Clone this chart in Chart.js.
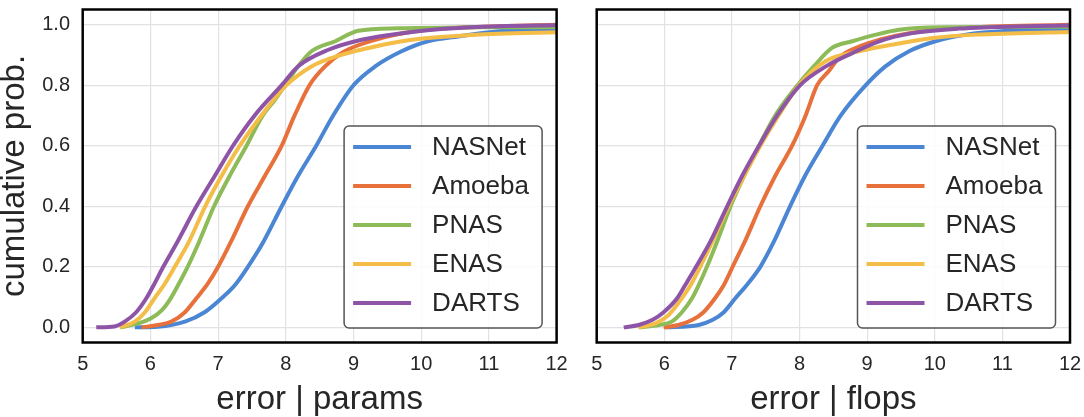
<!DOCTYPE html>
<html>
<head>
<meta charset="utf-8">
<script src="https://cdn.jsdelivr.net/npm/chart.js@4.4.1/dist/chart.umd.min.js"></script>
<style>
  html, body { margin: 0; padding: 0; background: #fff; }
  #wrap { position: relative; width: 1084px; height: 417px; overflow: hidden; }
  canvas { position: absolute; top: 0; }
</style>
</head>
<body>
<div id="wrap">
  <canvas id="chart-params" width="580" height="417" style="left:0px"></canvas>
  <canvas id="chart-flops" width="509" height="417" style="left:575px"></canvas>
</div>
<script>
// series names + colours (legend order)
const seriesNames = ['NASNet', 'Amoeba', 'PNAS', 'ENAS', 'DARTS'];
const seriesColors = ['#4a86d3', '#e8703a', '#8cbb57', '#f3bd47', '#8e55a6'];

// tick labels
const xTicks = [5, 6, 7, 8, 9, 10, 11, 12];
const yTicks = [0.0, 0.2, 0.4, 0.6, 0.8, 1.0];

// ---- error | params ----
const paramsNASNetX = [5.77, 6.11, 6.51, 6.80, 7.05, 7.25, 7.44, 7.67, 7.94, 8.18, 8.45, 8.70, 9.00, 9.32, 9.71, 10.10, 10.55, 11.14, 12.0];
const paramsNASNetP = [0, 0.002, 0.019, 0.05, 0.096, 0.14, 0.2, 0.283, 0.4, 0.5, 0.6, 0.7, 0.8, 0.862, 0.912, 0.945, 0.961, 0.978, 0.986];

const paramsAmoebaX = [5.87, 6.11, 6.31, 6.51, 6.68, 6.85, 7.00, 7.19, 7.44, 7.69, 7.94, 8.13, 8.35, 8.58, 8.87, 9.32, 9.91, 10.65, 12.0];
const paramsAmoebaP = [0, 0.008, 0.019, 0.05, 0.096, 0.145, 0.2, 0.283, 0.4, 0.5, 0.6, 0.7, 0.8, 0.862, 0.912, 0.95, 0.978, 0.991, 1.0];

const paramsPNASX = [5.55, 5.82, 6.01, 6.17, 6.30, 6.41, 6.55, 6.72, 6.94, 7.17, 7.42, 7.66, 7.84, 7.99, 8.18, 8.38, 8.73, 9.07, 9.66, 10.89, 12.0];
const paramsPNASP = [0, 0.013, 0.03, 0.057, 0.096, 0.14, 0.2, 0.283, 0.4, 0.5, 0.6, 0.7, 0.752, 0.8, 0.862, 0.912, 0.945, 0.98, 0.988, 0.991, 0.992];

const paramsENASX = [5.55, 5.77, 5.92, 6.06, 6.20, 6.36, 6.57, 6.81, 7.05, 7.32, 7.64, 8.01, 8.38, 8.82, 9.32, 9.86, 10.40, 11.14, 12.0];
const paramsENASP = [0, 0.019, 0.05, 0.096, 0.14, 0.2, 0.283, 0.4, 0.5, 0.6, 0.7, 0.8, 0.862, 0.9, 0.928, 0.95, 0.961, 0.97, 0.975];

const paramsDARTSX = [5.2, 5.47, 5.62, 5.79, 5.94, 6.05, 6.19, 6.40, 6.68, 6.95, 7.22, 7.54, 7.94, 8.18, 8.63, 9.12, 9.66, 10.40, 11.14, 12.0];
const paramsDARTSP = [0, 0.003, 0.019, 0.05, 0.096, 0.14, 0.2, 0.283, 0.4, 0.5, 0.6, 0.7, 0.8, 0.862, 0.917, 0.95, 0.97, 0.987, 0.995, 0.998];

// ---- error | flops ----
const flopsNASNetX = [6.01, 6.51, 6.71, 6.88, 7.05, 7.22, 7.42, 7.62, 7.86, 8.08, 8.34, 8.61, 8.98, 9.27, 9.62, 10.01, 10.46, 11.10, 12.0];
const flopsNASNetP = [0, 0.008, 0.024, 0.05, 0.096, 0.14, 0.2, 0.283, 0.4, 0.5, 0.6, 0.7, 0.8, 0.862, 0.912, 0.945, 0.967, 0.98, 0.986];

const flopsAmoebaX = [5.99, 6.21, 6.41, 6.58, 6.75, 6.88, 7.01, 7.19, 7.42, 7.64, 7.89, 8.09, 8.26, 8.43, 8.58, 8.83, 9.18, 9.62, 10.36, 12.0];
const flopsAmoebaP = [0, 0.008, 0.024, 0.05, 0.096, 0.14, 0.2, 0.283, 0.4, 0.5, 0.6, 0.7, 0.8, 0.846, 0.89, 0.923, 0.95, 0.972, 0.989, 1.0];

const flopsPNASX = [5.62, 5.92, 6.11, 6.26, 6.41, 6.51, 6.63, 6.78, 6.98, 7.18, 7.40, 7.64, 7.97, 8.21, 8.48, 8.78, 9.13, 9.47, 10.11, 12.0];
const flopsPNASP = [0, 0.008, 0.019, 0.05, 0.096, 0.14, 0.2, 0.283, 0.4, 0.5, 0.6, 0.7, 0.8, 0.862, 0.923, 0.945, 0.967, 0.983, 0.991, 0.993];

const flopsENASX = [5.62, 5.87, 6.06, 6.26, 6.39, 6.53, 6.71, 6.95, 7.18, 7.42, 7.69, 7.99, 8.39, 8.88, 9.37, 9.97, 10.61, 12.0];
const flopsENASP = [0, 0.013, 0.04, 0.096, 0.14, 0.2, 0.283, 0.4, 0.5, 0.6, 0.7, 0.8, 0.88, 0.912, 0.934, 0.956, 0.967, 0.976];

const flopsDARTSX = [5.40, 5.62, 5.82, 5.99, 6.19, 6.31, 6.47, 6.68, 6.93, 7.15, 7.40, 7.67, 8.01, 8.39, 8.78, 9.18, 9.67, 10.36, 11.35, 12.0];
const flopsDARTSP = [0, 0.008, 0.024, 0.05, 0.096, 0.14, 0.2, 0.283, 0.4, 0.5, 0.6, 0.7, 0.8, 0.862, 0.906, 0.945, 0.972, 0.987, 0.995, 0.997];

const FONT = '"Liberation Sans", Arial, sans-serif';
const TEXT = '#262626';

function toPoints(xs, ps) {
  return xs.map((x, i) => ({ x: x, y: ps[i] }));
}

function makeDatasets(xsList, psList) {
  return seriesNames.map((name, i) => ({
    label: name,
    data: toPoints(xsList[i], psList[i]),
    borderColor: seriesColors[i],
    backgroundColor: seriesColors[i],
    borderWidth: 4,
    pointRadius: 0,
    cubicInterpolationMode: 'monotone',
    order: seriesNames.length - i   // DARTS drawn last (on top)
  }));
}

// legend box inside the plot + black frame round the axes
const boxPlugin = {
  id: 'boxPlugin',
  afterDraw(chart) {
    const { ctx, chartArea } = chart;
    const w = 198, h = 202;
    const x0 = chartArea.right - 14.5 - w;
    const y0 = chartArea.bottom - 14.5 - h;
    ctx.save();
    ctx.beginPath();
    ctx.roundRect(x0, y0, w, h, 5);
    ctx.fillStyle = 'rgba(255,255,255,0.85)';
    ctx.fill();
    ctx.lineWidth = 1.5;
    ctx.strokeStyle = '#555';
    ctx.stroke();

    ctx.font = '26px ' + FONT;
    ctx.textBaseline = 'middle';
    ctx.textAlign = 'left';
    chart.data.datasets.forEach((ds, i) => {
      const yy = y0 + 21 + i * 39;
      ctx.strokeStyle = ds.borderColor;
      ctx.lineWidth = 4;
      ctx.beginPath();
      ctx.moveTo(x0 + 9, yy);
      ctx.lineTo(x0 + 67, yy);
      ctx.stroke();
      ctx.fillStyle = TEXT;
      ctx.fillText(ds.label, x0 + 88, yy + 1);
    });

    ctx.lineWidth = 2.5;
    ctx.strokeStyle = '#000';
    ctx.strokeRect(chartArea.left, chartArea.top, chartArea.right - chartArea.left, chartArea.bottom - chartArea.top);
    ctx.restore();
  }
};

function makeChart(id, datasets, xTitle, showY, yWidth, padRight) {
  const ctx = document.getElementById(id).getContext('2d');
  return new Chart(ctx, {
    type: 'line',
    data: { datasets: datasets },
    options: {
      responsive: false,
      animation: false,
      events: [],
      layout: { padding: { top: 9.5, right: padRight, left: 0, bottom: 0 } },
      plugins: { legend: { display: false }, tooltip: { enabled: false } },
      scales: {
        x: {
          type: 'linear',
          min: 5,
          max: 12,
          afterBuildTicks: s => { s.ticks = xTicks.map(v => ({ value: v })); },
          afterFit: s => { s.height = 74.5; s.paddingLeft = 0; s.paddingRight = 0; },
          grid: { color: '#e1e1e6', lineWidth: 1.2, drawTicks: false },
          border: { display: false },
          ticks: { padding: 10, color: TEXT, font: { family: FONT, size: 20 }, maxRotation: 0, autoSkip: false },
          title: { display: true, text: xTitle, color: TEXT, font: { family: FONT, size: 33, lineHeight: 1 }, padding: { top: 0, bottom: 1 } }
        },
        y: {
          type: 'linear',
          min: -0.05,
          max: 1.05,
          afterBuildTicks: s => { s.ticks = yTicks.map(v => ({ value: v })); },
          afterFit: s => { s.width = yWidth; s.paddingTop = 0; s.paddingBottom = 0; },
          grid: { color: '#e1e1e6', lineWidth: 1.2, drawTicks: false },
          border: { display: false },
          ticks: {
            display: showY,
            padding: 12.7,
            color: TEXT,
            font: { family: FONT, size: 20 },
            callback: v => v.toFixed(1)
          },
          title: { display: showY, text: 'cumulative prob.', color: TEXT, font: { family: FONT, size: 33, lineHeight: 0.9 }, padding: { top: 0.5, bottom: 0 } }
        }
      }
    },
    plugins: [boxPlugin]
  });
}

makeChart('chart-params',
  makeDatasets([paramsNASNetX, paramsAmoebaX, paramsPNASX, paramsENASX, paramsDARTSX],
               [paramsNASNetP, paramsAmoebaP, paramsPNASP, paramsENASP, paramsDARTSP]),
  'error | params', true, 82.7, 23.4);

makeChart('chart-flops',
  makeDatasets([flopsNASNetX, flopsAmoebaX, flopsPNASX, flopsENASX, flopsDARTSX],
               [flopsNASNetP, flopsAmoebaP, flopsPNASP, flopsENASP, flopsDARTSP]),
  'error | flops', false, 21.7, 14);
</script>
</body>
</html>
